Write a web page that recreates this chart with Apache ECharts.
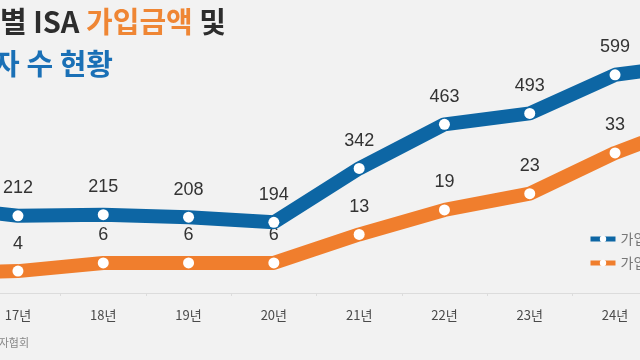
<!DOCTYPE html>
<html><head><meta charset="utf-8">
<script src="https://cdn.jsdelivr.net/npm/echarts@6/dist/echarts.min.js"></script>
<style>html,body{margin:0;padding:0;background:#f2f2f2}#c{width:640px;height:360px}</style>
</head><body><div id="c"></div>
<script>
const categories = ['16년','17년','18년','19년','20년','21년','22년','23년','24년','25년'];
const subscribers = [239, 212, 215, 208, 194, 342, 463, 493, 599, 630];   // 가입자 수 (만 명)
const amounts = [3.5, 4, 6, 6, 6, 13, 19, 23, 33, 41];                   // 가입금액 (조 원)
const seriesNames = ['가입자 수(만 명)', '가입금액(조 원)'];
const titleLine1 = ['연도별 ISA ', '가입금액', ' 및'];
const titleLine2 = '가입자 수 현황';
const sourceText = '자료: 금융투자협회';

const BLUE = '#0d66a4', ORANGE = '#f07e2d';
const chart = echarts.init(document.getElementById('c'));
const labelFont = {fontFamily:'Liberation Sans, Arial, sans-serif', fontSize:18, color:'#333'};
chart.setOption({
  backgroundColor:'#f2f2f2',
  animation:false,
  grid:{left:-110, right:-103, top:38, bottom:67, containLabel:false, outerBoundsMode:'none'},
  xAxis:{type:'category', data:categories, boundaryGap:true,
    axisLine:{lineStyle:{color:'#dcdcdc'}},
    axisTick:{show:true, length:3, lineStyle:{color:'#dcdcdc'}},
    axisLabel:{color:'#4a4a4a', fontSize:13, margin:16, fontFamily:'Noto Sans CJK KR'}},
  yAxis:[
    {type:'value', min:0, max:700, show:false, splitLine:{show:false}},
    {type:'value', min:-1.37, max:61.2, show:false, splitLine:{show:false}}
  ],
  legend:{orient:'vertical', left:588, top:231, padding:0, itemWidth:25, itemHeight:8, itemGap:8,
    textStyle:{color:'#777', fontSize:14, lineHeight:16, fontFamily:'Noto Sans CJK KR'},
    lineStyle:{width:5}, data:seriesNames},
  series:[
    {name:seriesNames[0], type:'line', yAxisIndex:0, data:subscribers,
      lineStyle:{color:BLUE, width:14}, color:BLUE,
      symbol:'circle', symbolSize:11, itemStyle:{color:'#fff', borderWidth:0},
      label:{show:true, position:'top', distance:13, ...labelFont}, z:3},
    {name:seriesNames[1], type:'line', yAxisIndex:1, data:amounts,
      lineStyle:{color:ORANGE, width:14}, color:ORANGE,
      symbol:'circle', symbolSize:11, itemStyle:{color:'#fff', borderWidth:0},
      label:{show:true, position:'top', distance:13, ...labelFont}, z:2}
  ],
  graphic:[
    {type:'text', x:226, y:22, style:{
      text:'{a|'+titleLine1[0]+'}{b|'+titleLine1[1]+'}{a|'+titleLine1[2]+'}',
      align:'right', verticalAlign:'middle',
      rich:{
        a:{fill:'#2d2d2d', fontSize:29, fontWeight:'bold', fontFamily:'Noto Sans CJK KR'},
        b:{fill:'#ef8634', fontSize:29, fontWeight:'bold', fontFamily:'Noto Sans CJK KR'}
      }}},
    {type:'text', x:113, y:64, style:{
      text:titleLine2, align:'right', verticalAlign:'middle',
      fill:'#1a70b6', fontSize:29, fontWeight:'bold', fontFamily:'Noto Sans CJK KR'}},
    {type:'text', x:29, y:343, style:{
      text:sourceText, align:'right', verticalAlign:'middle',
      fill:'#888', fontSize:11, fontFamily:'Noto Sans CJK KR'}}
  ]
});
</script></body></html>
